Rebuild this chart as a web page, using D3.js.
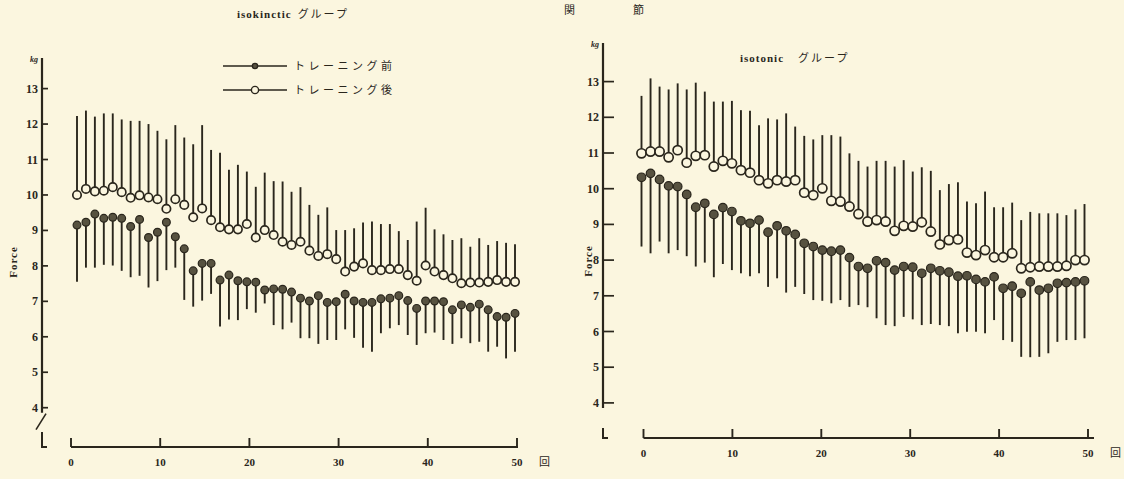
<!DOCTYPE html>
<html>
<head>
<meta charset="utf-8">
<script src="https://cdn.jsdelivr.net/npm/d3@7"></script>
<style>
  body { margin: 0; background: #fbf6df; }
  svg { display: block; }
  .tick-label { font-family: "Liberation Serif", serif; font-weight: bold; font-size: 12px; fill: #2a261c; }
  .jp { font-family: "Noto Sans CJK JP", sans-serif; fill: #2a261c; }
</style>
</head>
<body>
<div id="chart"></div>
<script>
// trial number 1..50
var trials = d3.range(1, 51);

var yTicks = [4, 5, 6, 7, 8, 9, 10, 11, 12, 13];
var xTicks = [0, 10, 20, 30, 40, 50];

// isokinetic group : before training (mean, lower end of bar)
var isokPre = [9.15, 9.23, 9.46, 9.34, 9.37, 9.34, 9.11, 9.31, 8.80, 8.95,
               9.23, 8.82, 8.48, 7.86, 8.07, 8.07, 7.60, 7.74, 7.58, 7.55,
               7.54, 7.32, 7.35, 7.34, 7.26, 7.09, 7.01, 7.16, 6.97, 6.99,
               7.20, 7.01, 6.97, 6.97, 7.07, 7.09, 7.16, 7.02, 6.80, 7.01,
               7.01, 6.99, 6.76, 6.90, 6.83, 6.92, 6.76, 6.57, 6.55, 6.66];
var isokPreLow = [7.55, 7.95, 7.95, 8.03, 8.01, 7.86, 7.68, 7.72, 7.39, 7.57,
                  7.88, 7.95, 7.04, 6.85, 7.02, 7.21, 6.29, 6.49, 6.47, 6.78,
                  6.68, 6.94, 6.33, 6.21, 6.40, 5.96, 5.96, 5.80, 5.91, 5.91,
                  6.21, 5.97, 5.69, 5.58, 6.10, 6.24, 6.33, 6.05, 5.77, 6.10,
                  6.12, 5.91, 5.80, 5.96, 5.82, 5.86, 5.58, 5.72, 5.39, 5.58];
// isokinetic group : after training (mean, upper end of bar)
var isokPost = [10.00, 10.17, 10.10, 10.12, 10.22, 10.08, 9.92, 9.99, 9.93, 9.88,
                9.61, 9.88, 9.72, 9.37, 9.62, 9.29, 9.09, 9.03, 9.03, 9.18,
                8.80, 9.01, 8.87, 8.68, 8.59, 8.68, 8.43, 8.28, 8.33, 8.19,
                7.84, 7.98, 8.07, 7.88, 7.88, 7.91, 7.91, 7.74, 7.58, 8.01,
                7.84, 7.74, 7.65, 7.51, 7.53, 7.53, 7.55, 7.60, 7.55, 7.55];
var isokPostHigh = [12.23, 12.38, 12.21, 12.30, 12.30, 12.13, 12.09, 12.09, 12.00, 11.81,
                    11.57, 11.97, 11.62, 11.43, 11.97, 11.27, 11.19, 10.71, 10.85, 10.66,
                    10.23, 10.63, 10.39, 10.38, 10.09, 10.22, 9.72, 9.44, 9.65, 9.01,
                    9.01, 9.06, 9.22, 9.25, 9.18, 9.18, 8.98, 8.73, 9.25, 9.64,
                    9.03, 8.89, 8.73, 8.78, 8.54, 8.78, 8.59, 8.70, 8.65, 8.61];

// isotonic group : before training
var isotPre = [10.32, 10.43, 10.26, 10.08, 10.06, 9.84, 9.48, 9.59, 9.28, 9.47,
               9.36, 9.10, 9.03, 9.12, 8.78, 8.96, 8.82, 8.72, 8.47, 8.38,
               8.28, 8.25, 8.28, 8.07, 7.82, 7.77, 7.98, 7.93, 7.72, 7.82,
               7.80, 7.63, 7.77, 7.70, 7.66, 7.55, 7.56, 7.46, 7.39, 7.53,
               7.21, 7.27, 7.07, 7.39, 7.16, 7.21, 7.35, 7.37, 7.39, 7.42];
var isotPreLow = [8.38, 8.19, 8.52, 8.19, 8.28, 8.11, 7.82, 7.93, 7.52, 7.89,
                  7.72, 7.63, 7.55, 7.63, 7.25, 7.49, 7.09, 7.25, 7.05, 6.88,
                  6.86, 6.79, 6.88, 6.69, 6.74, 6.68, 6.37, 6.18, 6.15, 6.41,
                  6.34, 6.18, 6.21, 6.18, 6.15, 5.95, 5.99, 5.99, 5.95, 6.32,
                  5.76, 5.71, 5.29, 5.28, 5.29, 5.39, 5.71, 5.76, 5.76, 5.81];
// isotonic group : after training
var isotPost = [10.99, 11.04, 11.04, 10.88, 11.08, 10.73, 10.92, 10.94, 10.62, 10.78,
                10.71, 10.52, 10.45, 10.24, 10.15, 10.24, 10.20, 10.24, 9.89, 9.82,
                10.01, 9.66, 9.64, 9.50, 9.29, 9.08, 9.12, 9.08, 8.82, 8.96,
                8.94, 9.06, 8.80, 8.44, 8.56, 8.58, 8.21, 8.14, 8.28, 8.08,
                8.08, 8.19, 7.77, 7.80, 7.82, 7.82, 7.82, 7.84, 8.00, 8.00];
var isotPostHigh = [12.60, 13.09, 12.86, 12.78, 12.95, 12.78, 12.97, 12.72, 12.44, 12.44,
                    12.46, 12.20, 12.18, 11.78, 11.97, 11.94, 12.11, 11.74, 11.48, 11.38,
                    11.50, 11.50, 11.46, 10.99, 10.78, 10.62, 10.78, 10.78, 10.62, 10.80,
                    10.48, 10.60, 10.50, 9.96, 10.13, 10.18, 9.64, 9.59, 9.92, 9.48,
                    9.48, 9.61, 9.12, 9.35, 9.31, 9.31, 9.31, 9.26, 9.42, 9.57];

var ink = "#2a261c";
var dotFill = "#575240";
var paper = "#fbf6df";

var width = 1124, height = 479;
var svg = d3.select("#chart").append("svg")
  .attr("width", width)
  .attr("height", height);

svg.append("rect").attr("width", width).attr("height", height).attr("fill", paper);

function drawPanel(p) {
  var g = svg.append("g");
  var y = d3.scaleLinear().domain([4, 13]).range([p.y4, p.y13]);
  var xAxisScale = d3.scaleLinear().domain([0, 50]).range(p.xAxisRange);
  var x = d3.scalePoint().domain(trials).range(p.pointRange);

  // y axis line (with break at the bottom)
  g.append("line")
    .attr("x1", p.yAxisX).attr("x2", p.yAxisX)
    .attr("y1", p.yAxisTop).attr("y2", y(4) + 5)
    .attr("stroke", ink).attr("stroke-width", 2.2);
  g.append("path")
    .attr("d", "M" + p.yAxisX + "," + p.footTop + "V" + p.xAxisY + "h5")
    .attr("fill", "none").attr("stroke", ink).attr("stroke-width", 2);
  if (p.slash) {
    g.append("line")
      .attr("x1", p.yAxisX - 6).attr("y1", y(4) + 22)
      .attr("x2", p.yAxisX + 4).attr("y2", y(4) + 6)
      .attr("stroke", ink).attr("stroke-width", 1.6);
  }

  // y ticks
  var yt = g.selectAll(".yt").data(yTicks).enter().append("g");
  yt.append("line")
    .attr("x1", p.yAxisX).attr("x2", p.yAxisX + p.tickLen)
    .attr("y1", function(d) { return y(d); }).attr("y2", function(d) { return y(d); })
    .attr("stroke", ink).attr("stroke-width", 1.7);
  yt.append("text")
    .attr("class", "tick-label")
    .attr("x", p.yAxisX - 4)
    .attr("y", function(d) { return y(d) + 4; })
    .attr("text-anchor", "end")
    .text(function(d) { return d; });

  g.append("text").attr("class", "tick-label")
    .attr("x", p.yAxisX - 4).attr("y", p.yAxisTop + 4)
    .attr("text-anchor", "end")
    .style("font-size", "8px").style("font-style", "italic")
    .text("kg");

  g.append("text").attr("class", "tick-label")
    .attr("transform", "translate(" + p.forceX + "," + p.forceY + ") rotate(-90)")
    .attr("text-anchor", "middle")
    .style("font-size", "11px").style("letter-spacing", "1px")
    .text("Force");

  // x axis
  g.append("line")
    .attr("x1", xAxisScale(0)).attr("x2", p.xAxisEnd)
    .attr("y1", p.xAxisY).attr("y2", p.xAxisY)
    .attr("stroke", ink).attr("stroke-width", 2.2);
  var xt = g.selectAll(".xt").data(xTicks).enter().append("g");
  xt.append("line")
    .attr("x1", function(d) { return xAxisScale(d); })
    .attr("x2", function(d) { return xAxisScale(d); })
    .attr("y1", p.xAxisY).attr("y2", p.xAxisY - 9)
    .attr("stroke", ink).attr("stroke-width", 1.9);
  xt.append("text")
    .attr("class", "tick-label")
    .attr("x", function(d) { return xAxisScale(d); })
    .attr("y", p.xAxisY + 19)
    .attr("text-anchor", "middle")
    .style("font-size", "11px")
    .text(function(d) { return d; });
  g.append("text").attr("class", "jp")
    .attr("x", xAxisScale(50) + 22).attr("y", p.xAxisY + 19)
    .style("font-size", "11px")
    .text("回");

  // after-training: open circles with upward bars
  g.selectAll(".post-bar").data(trials).enter().append("line")
    .attr("x1", function(d) { return x(d); }).attr("x2", function(d) { return x(d); })
    .attr("y1", function(d, i) { return y(p.post[i]); })
    .attr("y2", function(d, i) { return y(p.postHigh[i]); })
    .attr("stroke", ink).attr("stroke-width", 1.9);
  // before-training: filled circles with downward bars
  g.selectAll(".pre-bar").data(trials).enter().append("line")
    .attr("x1", function(d) { return x(d); }).attr("x2", function(d) { return x(d); })
    .attr("y1", function(d, i) { return y(p.pre[i]); })
    .attr("y2", function(d, i) { return y(p.preLow[i]); })
    .attr("stroke", ink).attr("stroke-width", 1.9);

  g.selectAll(".post-dot").data(trials).enter().append("circle")
    .attr("cx", function(d) { return x(d); })
    .attr("cy", function(d, i) { return y(p.post[i]); })
    .attr("r", p.r)
    .attr("fill", paper).attr("stroke", ink).attr("stroke-width", 1.7);
  g.selectAll(".pre-dot").data(trials).enter().append("circle")
    .attr("cx", function(d) { return x(d); })
    .attr("cy", function(d, i) { return y(p.pre[i]); })
    .attr("r", p.r - 0.3)
    .attr("fill", dotFill).attr("stroke", ink).attr("stroke-width", 1.2);

  // title
  var t = g.append("text")
    .attr("x", p.titleX).attr("y", p.titleY)
    .style("font-size", "11px");
  t.append("tspan").attr("class", "tick-label").style("font-size", "11px").style("letter-spacing", "1px").text(p.titleLatin);
  t.append("tspan").attr("class", "jp").attr("dx", p.titleGap).style("letter-spacing", "2px").text("グループ");
}

drawPanel({
  y4: 407.7, y13: 88.6,
  yAxisX: 42, yAxisTop: 58, footTop: 432, xAxisY: 447,
  xAxisRange: [71, 517], xAxisEnd: 518,
  pointRange: [77, 515],
  tickLen: 6, slash: true, r: 4.2,
  forceX: 17, forceY: 262,
  pre: isokPre, preLow: isokPreLow, post: isokPost, postHigh: isokPostHigh,
  titleX: 237, titleY: 18, titleLatin: "isokinctic", titleGap: 6
});

drawPanel({
  y4: 402.9, y13: 81.6,
  yAxisX: 603, yAxisTop: 43, footTop: 428, xAxisY: 438,
  xAxisRange: [643.5, 1088], xAxisEnd: 1094,
  pointRange: [641.5, 1084.5],
  tickLen: 11, slash: false, r: 4.6,
  forceX: 592, forceY: 261,
  pre: isotPre, preLow: isotPreLow, post: isotPost, postHigh: isotPostHigh,
  titleX: 740, titleY: 62, titleLatin: "isotonic", titleGap: 14
});

// legend (left panel)
var legend = svg.append("g");
var legendRows = [
  { label: "トレーニング前", filled: true, y: 66 },
  { label: "トレーニング後", filled: false, y: 90 }
];
legendRows.forEach(function(row) {
  legend.append("line")
    .attr("x1", 223).attr("x2", 287).attr("y1", row.y).attr("y2", row.y)
    .attr("stroke", ink).attr("stroke-width", 1.6);
  legend.append("circle")
    .attr("cx", 255).attr("cy", row.y)
    .attr("r", row.filled ? 2.6 : 3.6)
    .attr("fill", row.filled ? dotFill : paper)
    .attr("stroke", ink).attr("stroke-width", 1.4);
  legend.append("text").attr("class", "jp")
    .attr("x", 294).attr("y", row.y + 4)
    .style("font-size", "11px").style("letter-spacing", "3.5px")
    .text(row.label);
});

// heading fragment at the top of the page
svg.append("text").attr("class", "jp")
  .attr("x", 564).attr("y", 14).style("font-size", "11px").text("関");
svg.append("text").attr("class", "jp")
  .attr("x", 633).attr("y", 14).style("font-size", "11px").text("節");
</script>
</body>
</html>
